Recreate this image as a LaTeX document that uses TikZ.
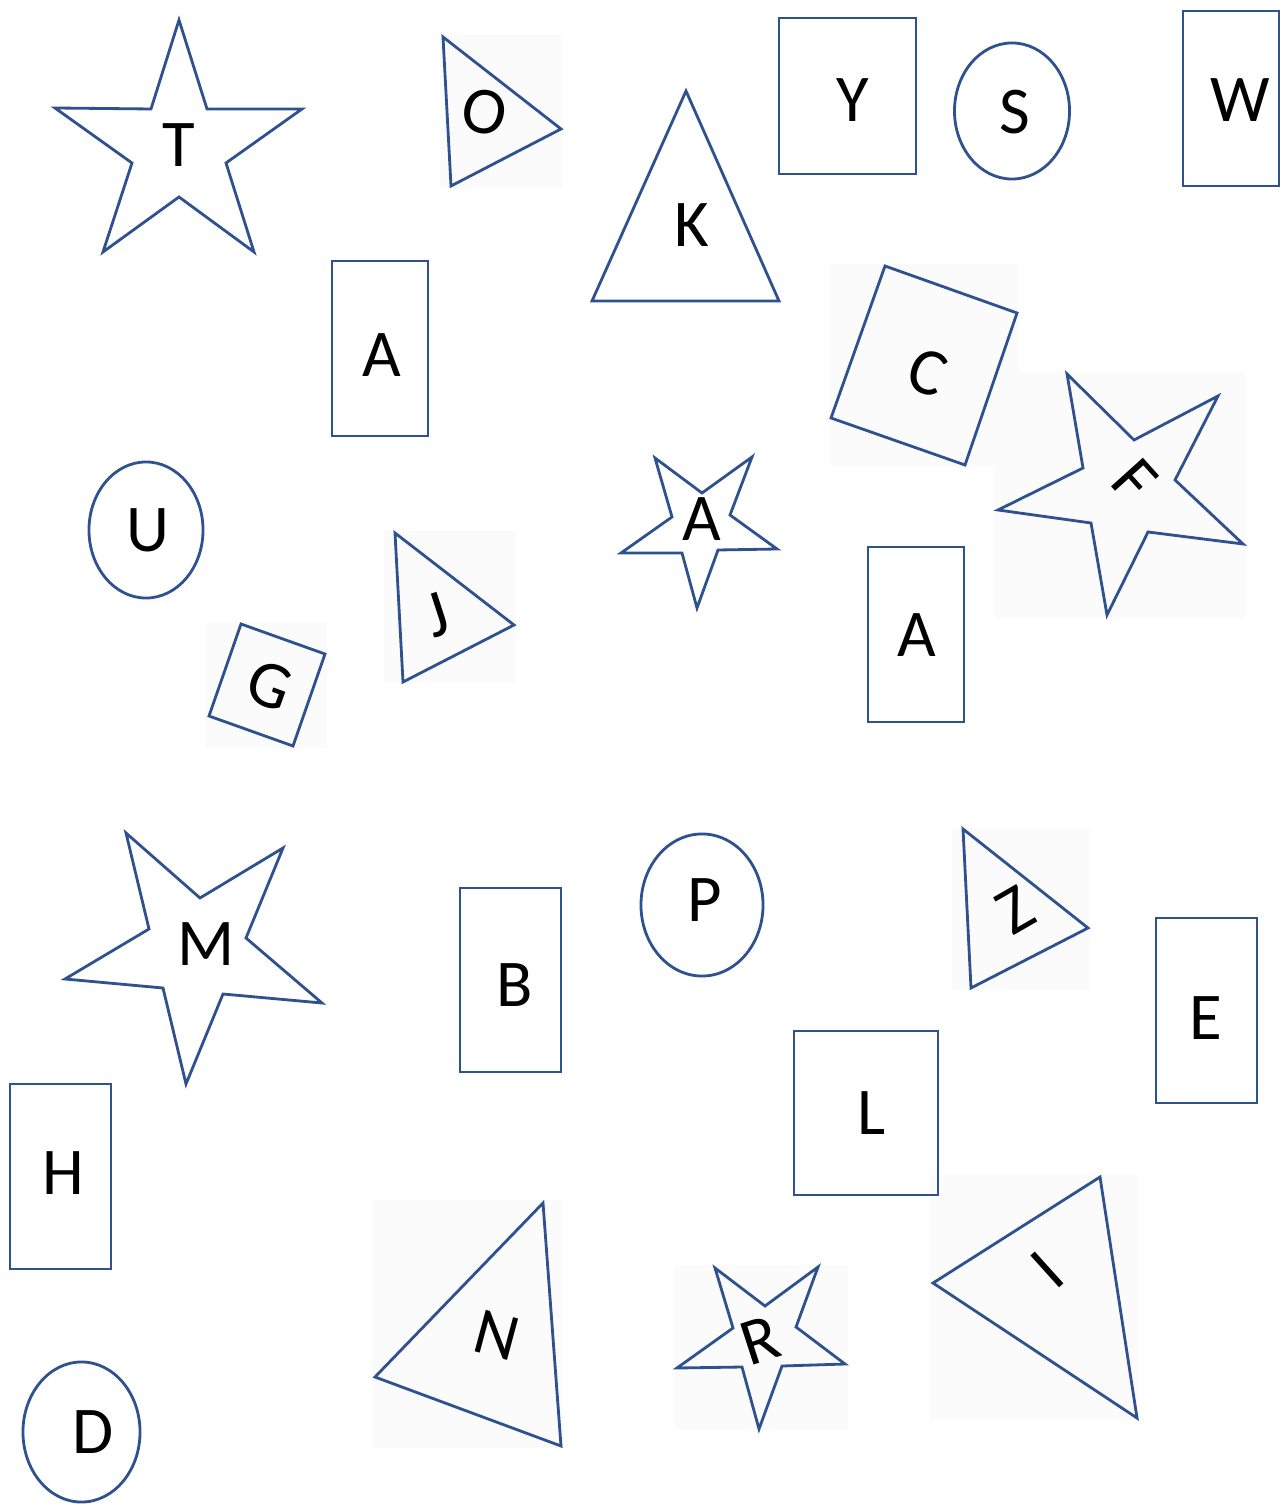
\documentclass[tikz,border=0pt]{standalone}
\usepackage{fontspec}
\setmainfont{Carlito}
\newcommand\lettersize{\fontsize{19}{19}\selectfont}
\definecolor{edgeblue}{HTML}{2F528F}
\definecolor{faintbg}{HTML}{FBFBFB}
\tikzset{
  shp/.style={draw=edgeblue, line width=0.8pt, line join=miter},
  bgbox/.style={fill=faintbg, draw=none},
  lbl/.style={font=\lettersize, text=black, inner sep=0pt}
}
\begin{document}
\begin{tikzpicture}[x=0.01cm,y=-0.01cm]
\useasboundingbox (0,0) rectangle (1285,1504);
\fill[white] (0,0) rectangle (1285,1504);
% faint backgrounds of rotated shapes
\path[bgbox] (440,35) rectangle (563,188);
\path[bgbox] (829,264) rectangle (1019,467);
\path[bgbox] (995,372) rectangle (1245,618);
\path[bgbox] (384,531) rectangle (516,683);
\path[bgbox] (205,622) rectangle (327,748);
\path[bgbox] (952,828) rectangle (1090,990);
\path[bgbox] (372,1200) rectangle (563,1448);
\path[bgbox] (675,1265) rectangle (848,1430);
\path[bgbox] (930,1175) rectangle (1139,1420);
% stars
\draw[shp] (179,20) -- (207,109) -- (302,109) -- (226,163) -- (254,252) -- (179,197) -- (103,252) -- (132,163) -- (55,108) -- (151,109) -- cycle;
\draw[shp] (1067,374) -- (1134,440) -- (1218,396) -- (1175,480) -- (1243,544) -- (1148,532) -- (1107,615) -- (1091,523) -- (998,510) -- (1083,468) -- cycle;
\draw[shp] (655,458) -- (702,493) -- (752,457) -- (730,515) -- (777,549) -- (718,550) -- (697,608) -- (682,553) -- (621,553) -- (672,517) -- cycle;
\draw[shp] (126,833) -- (200,898) -- (283,848) -- (246,938) -- (322,1003) -- (223,994) -- (186,1084) -- (163,988) -- (65,979) -- (149,929) -- cycle;
\draw[shp] (715,1268) -- (765,1306) -- (818,1267) -- (796,1327) -- (845,1364) -- (782,1366) -- (759,1429) -- (742,1367) -- (677,1368) -- (733,1328) -- cycle;
% triangles
\draw[shp] (443,37) -- (561,129) -- (451,186) -- cycle;
\draw[shp] (686,91) -- (779,301) -- (592,301) -- cycle;
\draw[shp] (395,533) -- (514,625) -- (403,682) -- cycle;
\draw[shp] (963,829) -- (1088,928) -- (971,988) -- cycle;
\draw[shp] (543,1203) -- (561,1446) -- (375,1377) -- cycle;
\draw[shp] (1100,1177) -- (1137,1418) -- (933,1283) -- cycle;
% rotated squares
\draw[shp] (885,266) -- (1017,313) -- (965,465) -- (831,418) -- cycle;
\draw[shp] (241,624) -- (325,654) -- (293,746) -- (209,716) -- cycle;
% rectangles
\draw[shp] (779,18) rectangle (916,174);
\draw[shp] (1183,11) rectangle (1279,186);
\draw[shp] (332,261) rectangle (428,436);
\draw[shp] (868,547) rectangle (964,722);
\draw[shp] (460,888) rectangle (561,1072);
\draw[shp] (1156,918) rectangle (1257,1103);
\draw[shp] (794,1031) rectangle (938,1195);
\draw[shp] (10,1084) rectangle (111,1269);
% ellipses
\draw[shp] (1012,111) ellipse [x radius=0.575cm, y radius=0.68cm];
\draw[shp] (146,530) ellipse [x radius=0.57cm, y radius=0.68cm];
\draw[shp] (702,905) ellipse [x radius=0.61cm, y radius=0.71cm];
\draw[shp] (81.5,1432) ellipse [x radius=0.585cm, y radius=0.70cm];
% letters
\node[lbl] (lT) at (179,145) {T};
\node[lbl, rotate=-12] (lO) at (485,112) {O};
\node[lbl] (lK) at (692,225) {K};
\node[lbl] (lY) at (853,100) {Y};
\node[lbl] (lS) at (1015,112) {S};
\node[lbl] (lW) at (1240,100) {W};
\node[lbl] (lA1) at (382,355) {A};
\node[lbl, rotate=-20] (lC) at (928,372) {C};
\node[lbl, rotate=-48] (lF) at (1135,481) {F};
\node[lbl] (lU) at (148,530) {U};
\node[lbl] (lA2) at (702,519) {A};
\node[lbl] (lA3) at (917,635) {A};
\node[lbl, rotate=18] (lJ) at (437,615) {J};
\node[lbl, rotate=-20] (lG) at (270,686) {G};
\node[lbl] (lM) at (206,944) {M};
\node[lbl] (lB) at (515,985) {B};
\node[lbl] (lP) at (705,900) {P};
\node[lbl, rotate=30] (lZ) at (1015,910) {Z};
\node[lbl] (lE) at (1206,1018) {E};
\node[lbl] (lL) at (872,1113) {L};
\node[lbl] (lH) at (63,1173) {H};
\node[lbl] (lD) at (93,1432) {D};
\node[lbl, rotate=-15] (lN) at (497,1335) {N};
\node[lbl, rotate=18] (lR) at (760,1340) {R};
\node[lbl, rotate=42] (lI) at (1047,1270) {I};
\end{tikzpicture}
\end{document}
